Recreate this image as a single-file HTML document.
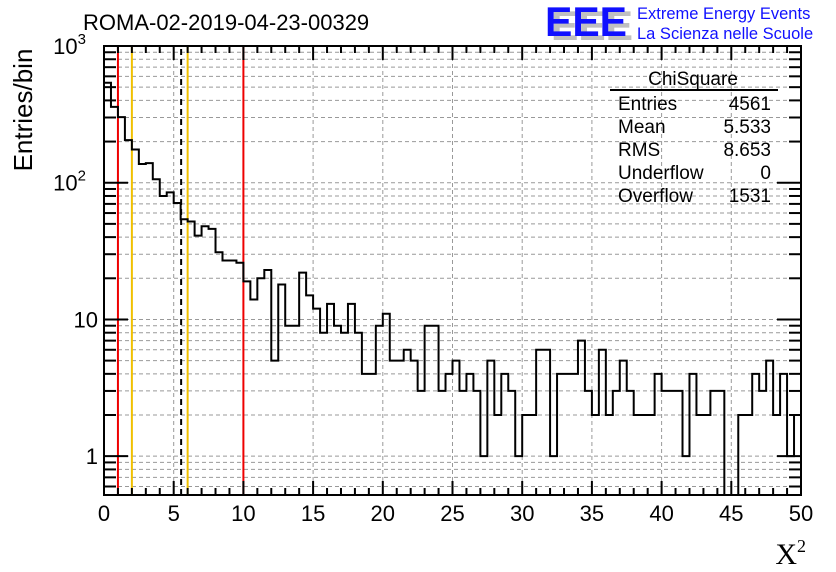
<!DOCTYPE html>
<html><head><meta charset="utf-8"><style>
html,body{margin:0;padding:0;background:#fff;}
svg{display:block;font-family:"Liberation Sans",sans-serif;}
</style></head><body>
<svg id="c" width="836" height="572" viewBox="0 0 836 572">
<g id="grid"></g>
<g id="lines"></g>
<path id="hist" fill="none" stroke="#000" stroke-width="2"/>
<rect x="104" y="46" width="697" height="449" fill="none" stroke="#000" stroke-width="2"/>
<g id="ticks"></g>
<text x="83" y="30" font-size="22">ROMA-02-2019-04-23-00329</text>
<text x="32" y="110" font-size="26" text-anchor="middle" transform="rotate(-90 32 110)">Entries/bin</text>
<text x="806" y="564" font-size="30" text-anchor="end" font-family="Liberation Serif,serif">X<tspan font-size="18" dy="-12">2</tspan></text>
<g>
<text x="551" y="40" font-size="42" font-weight="bold" fill="#c0c0c0" textLength="82" lengthAdjust="spacingAndGlyphs">EEE</text>
<text x="545" y="36" font-size="42" font-weight="bold" fill="#1010ff" textLength="82" lengthAdjust="spacingAndGlyphs">EEE</text>
<text x="637" y="19" font-size="16.5" fill="#1010ff">Extreme Energy Events</text>
<text x="637" y="39" font-size="16.5" fill="#1010ff">La Scienza nelle Scuole</text>
</g>
<g font-size="19">
<text x="693" y="85" text-anchor="middle">ChiSquare</text>
<line x1="610" y1="90" x2="778" y2="90" stroke="#000" stroke-width="2"/>
<text x="618" y="110">Entries</text><text x="771" y="110" text-anchor="end">4561</text>
<text x="618" y="133">Mean</text><text x="771" y="133" text-anchor="end">5.533</text>
<text x="618" y="156">RMS</text><text x="771" y="156" text-anchor="end">8.653</text>
<text x="618" y="179">Underflow</text><text x="771" y="179" text-anchor="end">0</text>
<text x="618" y="202">Overflow</text><text x="771" y="202" text-anchor="end">1531</text>
</g>
</svg>
<script>
const binCounts=[538,359,302,205,175,137,139,106,80,85,71,54,52,41,48,46,31,27,27,26,19,14,20,23,5,18,9,9,22,15,12,8,13,9,8,13,8,4,4,9,11,5,5,6,5,3,9,9,3,4,5,3,4,3,1,5,2,4,3,1,2,2,6,6,1,4,4,4,7,3,2,6,2,3,5,3,2,2,2,4,3,3,3,1,4,2,2,3,3,0,0,2,2,4,3,5,2,4,1,2];
const binWidth=0.5;
const xTickLabels=[0,5,10,15,20,25,30,35,40,45,50];
const yTickValues=[1,10,100,1000];
const cutLinesX=[1,10];
const windowLinesX=[2,6];
const meanX=5.533;
const X0=104,X1=801,Y0=495,Y1=46,XMIN=0,XMAX=50,YMIN=0.52,YMAX=1000;
const NS='http://www.w3.org/2000/svg';
function sx(v){return X0+(v-XMIN)/(XMAX-XMIN)*(X1-X0);}
function sy(v){if(v<=YMIN)return Y0;return Y0-(Math.log10(v)-Math.log10(YMIN))/(Math.log10(YMAX)-Math.log10(YMIN))*(Y0-Y1);}
function mk(tag,attrs,parent){const e=document.createElementNS(NS,tag);for(const k in attrs)e.setAttribute(k,attrs[k]);parent.appendChild(e);return e;}
const grid=document.getElementById('grid'),ticks=document.getElementById('ticks'),lines=document.getElementById('lines');
xTickLabels.forEach(v=>{const l=mk('line',{x1:sx(v),x2:sx(v),y1:Y0,y2:Y1,stroke:'#999','stroke-dasharray':'4,3','stroke-width':1},grid);

});
for(let d=0.1;d<1000;d*=10){for(let m=1;m<10;m++){const v=Math.round(d*m*100)/100;if(v<YMIN||v>YMAX)continue;const y=sy(v);
const l=mk('line',{x1:X0,x2:X1,y1:y,y2:y,stroke:'#999','stroke-dasharray':'4,3','stroke-width':1},grid);


const tl=(m===1)?24:12;
mk('line',{x1:X0,x2:X0+tl,y1:y,y2:y,stroke:'#000','stroke-width':2},ticks);
mk('line',{x1:X1,x2:X1-tl,y1:y,y2:y,stroke:'#000','stroke-width':2},ticks);}}
for(let v=0;v<=50;v++){const x=sx(v);const tl=(v%5===0)?14:7;
mk('line',{x1:x,x2:x,y1:Y0,y2:Y0-tl,stroke:'#000','stroke-width':2},ticks);
mk('line',{x1:x,x2:x,y1:Y1,y2:Y1+tl,stroke:'#000','stroke-width':2},ticks);}
xTickLabels.forEach(v=>{const t=mk('text',{x:sx(v),y:521,'font-size':22,'text-anchor':'middle'},ticks);t.textContent=v;

});
yTickValues.forEach(v=>{const y=sy(v);const t=mk('text',{x:v>=100?86:98,y:y+8,'font-size':22,'text-anchor':'end'},ticks);
if(v>=100){t.textContent='10';const s=mk('tspan',{'font-size':15,dy:-10},t);s.textContent=String(Math.round(Math.log10(v)));}else t.textContent=v;

});
cutLinesX.forEach(v=>{const l=mk('line',{x1:sx(v),x2:sx(v),y1:Y0,y2:Y1,stroke:'#e00','stroke-width':2},lines);

});
windowLinesX.forEach(v=>{const l=mk('line',{x1:sx(v),x2:sx(v),y1:Y0,y2:Y1,stroke:'#f0c000','stroke-width':2},lines);

});
{const l=mk('line',{x1:sx(meanX),x2:sx(meanX),y1:Y0,y2:Y1,stroke:'#000','stroke-width':2,'stroke-dasharray':'6,4'},lines);

}
let d='M'+sx(0)+','+sy(binCounts[0]);
binCounts.forEach((c,i)=>{const xa=sx(i*binWidth),xb=sx((i+1)*binWidth),y=sy(c);
d+=' L'+xa+','+y+' L'+xb+','+y;});
document.getElementById('hist').setAttribute('d',d);
</script>
</body></html>
